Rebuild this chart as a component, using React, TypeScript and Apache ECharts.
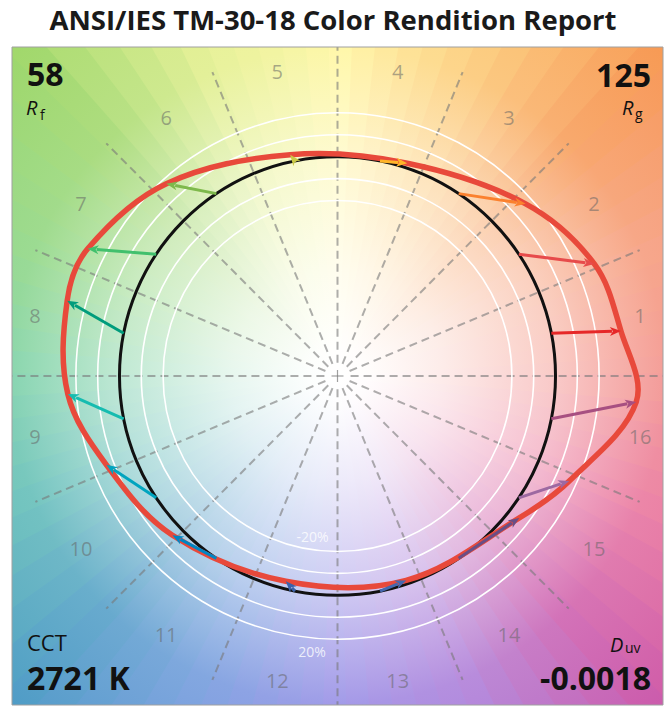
import React, { useEffect, useRef } from 'react';
import * as echarts from 'echarts';

const titleText = 'ANSI/IES TM-30-18 Color Rendition Report';
const bins = ['1', '2', '3', '4', '5', '6', '7', '8', '9', '10', '11', '12', '13', '14', '15', '16'];
const binColors = ['#e62828', '#e74b4b', '#fb812e', '#ffb529', '#cbca46', '#7eb94c', '#41c06d', '#009c7c',
  '#16bcb0', '#00a4bf', '#0085c3', '#3b62aa', '#4568ae', '#6a4e85', '#9d69a1', '#a74f81'];
// test (light source) chromaticity per hue bin, normalised to the reference circle (radius 1)
const testX = [1.30, 1.178, 0.863, 0.32, -0.217, -0.785, -1.146, -1.24, -1.237, -1.06, -0.757, -0.237, 0.315, 0.834, 1.063, 1.37];
const testY = [0.205, 0.511, 0.785, 0.97, 1.009, 0.877, 0.58, 0.343, -0.082, -0.405, -0.726, -0.936, -0.932, -0.647, -0.479, -0.119];
const ringRadii = [0.8, 0.9, 1.1, 1.2];
const ringLabels = ['-20%', '20%'];
const rfValue = '58';
const rgValue = '125';
const cctValue = '2721 K';
const duvValue = '-0.0018';
// background hue anchors (every 22.5 deg, counter-clockwise from +x)
const bgColors = ['#f28a84', '#f59676', '#f79650', '#fcc870', '#fff59a', '#e2ef88', '#9cd666', '#8ad47c',
  '#72cda0', '#5abab4', '#4a9ac4', '#6e96dc', '#9088e4', '#a878d8', '#cc56a8', '#e86e98'];

const FONT = '"Open Sans", "Noto Sans", sans-serif';
const RAD = Math.PI / 180;

function hexRgb(h: string) {
  const n = parseInt(h.slice(1), 16);
  return [(n >> 16) & 255, (n >> 8) & 255, n & 255];
}
function hueAt(deg: number) {
  const d = ((deg % 360) + 360) % 360;
  const k = Math.floor(d / 22.5);
  const t = (d - k * 22.5) / 22.5;
  const a = hexRgb(bgColors[k % 16]);
  const b = hexRgb(bgColors[(k + 1) % 16]);
  return [0, 1, 2].map((i) => a[i] + (b[i] - a[i]) * t);
}
function mix(c: number[], t: number) {
  const v = c.map((x) => Math.round(255 + (x - 255) * t));
  return `rgb(${v[0]},${v[1]},${v[2]})`;
}

export default function App() {
  const ref = useRef<HTMLDivElement>(null);
  useEffect(() => {
    document.body.style.margin = '0';
    const chart = echarts.init(ref.current!, null, { renderer: 'svg' });
    const binAngle = (i: number) => (11.25 + 22.5 * i) * RAD;
    const labelR = 1.415;

    const option: any = {
      animation: false,
      backgroundColor: '#ffffff',
      title: {
        text: titleText,
        left: 'center',
        top: 5,
        padding: 0,
        textStyle: { fontFamily: FONT, fontWeight: 'bold', fontSize: 27.5, color: '#1a1a1a' },
      },
      grid: { left: 12, top: 47, width: 651, height: 658, show: false },
      xAxis: { type: 'value', min: -1.493, max: 1.493, show: false },
      yAxis: { type: 'value', min: -1.5, max: 1.5, show: false },
      series: [
        {
          name: 'background',
          type: 'custom',
          clip: true,
          silent: true,
          z: 1,
          data: [[0, 0]],
          renderItem: (params: any, api: any) => {
            const c = api.coord([0, 0]);
            const s = api.size([1, 1]);
            const R = 2.2 * Math.max(s[0], s[1]);
            const N = 90;
            const children: any[] = [];
            for (let k = 0; k < N; k++) {
              const a0 = (k * 360) / N - 0.5;
              const a1 = ((k + 1) * 360) / N + 0.5;
              const col = hueAt(((k + 0.5) * 360) / N);
              const grad = new echarts.graphic.RadialGradient(c[0], c[1], R, [
                { offset: 0, color: mix(col, 0) },
                { offset: 0.06, color: mix(col, 0.02) },
                { offset: 0.22, color: mix(col, 0.17) },
                { offset: 0.45, color: mix(col, 0.45) },
                { offset: 0.68, color: mix(col, 0.84) },
                { offset: 1, color: mix(col, 1) },
              ], true);
              children.push({
                type: 'sector',
                shape: { cx: c[0], cy: c[1], r0: 0, r: R, startAngle: -a1 * RAD, endAngle: -a0 * RAD, clockwise: true },
                style: { fill: grad, stroke: null },
              });
            }
            return { type: 'group', children };
          },
        },
        {
          name: 'guides',
          type: 'custom',
          clip: true,
          silent: true,
          z: 2,
          data: [[0, 0]],
          renderItem: (params: any, api: any) => {
            const c = api.coord([0, 0]);
            const s = api.size([1, 1]);
            const children: any[] = [];
            for (let k = 0; k < 16; k++) {
              const a = 22.5 * k * RAD;
              const b = api.coord([0.06 * Math.cos(a), 0.06 * Math.sin(a)]);
              const e = api.coord([1.5 * Math.cos(a), 1.5 * Math.sin(a)]);
              children.push({
                type: 'line',
                shape: { x1: b[0], y1: b[1], x2: e[0], y2: e[1] },
                style: { stroke: 'rgba(120,120,120,0.6)', lineWidth: 2, lineDash: [8, 5] },
              });
            }
            children.push({
              type: 'line',
              shape: { x1: c[0] - 6, y1: c[1], x2: c[0] + 6, y2: c[1] },
              style: { stroke: 'rgba(120,120,120,0.7)', lineWidth: 1.2 },
            });
            children.push({
              type: 'line',
              shape: { x1: c[0], y1: c[1] - 6, x2: c[0], y2: c[1] + 6 },
              style: { stroke: 'rgba(120,120,120,0.7)', lineWidth: 1.2 },
            });
            ringRadii.forEach((r) => {
              children.push({
                type: 'ellipse',
                shape: { cx: c[0], cy: c[1], rx: r * s[0], ry: r * s[1] },
                style: { fill: 'none', stroke: '#ffffff', lineWidth: 1.6 },
              });
            });
            return { type: 'group', children };
          },
        },
        {
          name: 'reference',
          type: 'custom',
          clip: true,
          silent: true,
          z: 3,
          data: [[0, 0]],
          renderItem: (params: any, api: any) => {
            const c = api.coord([0, 0]);
            const s = api.size([1, 1]);
            return {
              type: 'ellipse',
              shape: { cx: c[0], cy: c[1], rx: s[0], ry: s[1] },
              style: { fill: 'none', stroke: '#111111', lineWidth: 3 },
            };
          },
        },
        {
          name: 'test',
          type: 'custom',
          clip: true,
          silent: true,
          z: 4,
          data: testX.map((x, i) => [x, testY[i]]),
          renderItem: (params: any, api: any) => {
            if (params.dataIndex !== 0) return null;
            const pts = testX.map((x, i) => api.coord([x, testY[i]]));
            return {
              type: 'polygon',
              shape: { points: pts, smooth: 0.35 },
              style: { fill: 'none', stroke: '#e8493b', lineWidth: 5.5 },
            };
          },
        },
        {
          name: 'arrows',
          type: 'custom',
          clip: true,
          silent: true,
          z: 5,
          data: testX.map((x, i) => [x, testY[i]]),
          renderItem: (params: any, api: any) => {
            const i = params.dataIndex;
            const th = binAngle(i);
            const p0 = api.coord([Math.cos(th), Math.sin(th)]);
            const p1 = api.coord([api.value(0), api.value(1)]);
            let dx = p1[0] - p0[0];
            let dy = p1[1] - p0[1];
            const L = Math.hypot(dx, dy) || 1;
            dx /= L; dy /= L;
            const hl = 11, hw = 4.5;
            const bx = p1[0] - dx * hl, by = p1[1] - dy * hl;
            const col = binColors[i];
            return {
              type: 'group',
              children: [
                {
                  type: 'line',
                  shape: { x1: p0[0], y1: p0[1], x2: bx + dx * 2, y2: by + dy * 2 },
                  style: { stroke: col, lineWidth: 3 },
                },
                {
                  type: 'polygon',
                  shape: { points: [[p1[0], p1[1]], [bx - dy * hw, by + dx * hw], [bx + dx * 3, by + dy * 3], [bx + dy * hw, by - dx * hw]] },
                  style: { fill: col, stroke: null },
                },
              ],
            };
          },
        },
        {
          name: 'bins',
          type: 'scatter',
          silent: true,
          z: 6,
          symbolSize: 1,
          itemStyle: { color: 'rgba(0,0,0,0)' },
          label: {
            show: true,
            position: 'inside',
            formatter: '{b}',
            fontFamily: FONT,
            fontSize: 20,
            color: 'rgba(100,100,100,0.66)',
          },
          data: bins.map((b, i) => ({
            name: b,
            value: [labelR * Math.cos(binAngle(i)), labelR * Math.sin(binAngle(i))],
          })),
        },
        {
          name: 'rings',
          type: 'scatter',
          silent: true,
          z: 6,
          symbolSize: 1,
          itemStyle: { color: 'rgba(0,0,0,0)' },
          label: {
            show: true,
            position: 'inside',
            formatter: '{b}',
            fontFamily: FONT,
            fontSize: 14,
            color: '#ffffff',
          },
          data: [
            { name: ringLabels[0], value: [-0.115, -(ringRadii[0] - 0.07)] },
            { name: ringLabels[1], value: [-0.117, -(ringRadii[3] + 0.055)] },
          ],
        },
      ],
      graphic: [
        { type: 'rect', z: 100, silent: true, shape: { x: 12, y: 47, width: 651, height: 658 }, style: { fill: 'none', stroke: '#a0a0a0', lineWidth: 1 } },
        { type: 'text', z: 100, x: 27, y: 73.6, style: { text: rfValue, font: `bold 32px ${FONT}`, fill: '#111', textAlign: 'left', textVerticalAlign: 'middle' } },
        { type: 'text', z: 100, x: 26, y: 107.2, style: { text: 'R', font: `italic 20px ${FONT}`, fill: '#111', textAlign: 'left', textVerticalAlign: 'middle' } },
        { type: 'text', z: 100, x: 40, y: 114.6, style: { text: 'f', font: `14px ${FONT}`, fill: '#111', textAlign: 'left', textVerticalAlign: 'middle' } },
        { type: 'text', z: 100, x: 651, y: 74.6, style: { text: rgValue, font: `bold 32px ${FONT}`, fill: '#111', textAlign: 'right', textVerticalAlign: 'middle' } },
        { type: 'text', z: 100, x: 622, y: 107.2, style: { text: 'R', font: `italic 20px ${FONT}`, fill: '#111', textAlign: 'left', textVerticalAlign: 'middle' } },
        { type: 'text', z: 100, x: 635, y: 113, style: { text: 'g', font: `14px ${FONT}`, fill: '#111', textAlign: 'left', textVerticalAlign: 'middle' } },
        { type: 'text', z: 100, x: 27, y: 641.5, style: { text: 'CCT', font: `22px ${FONT}`, fill: '#111', textAlign: 'left', textVerticalAlign: 'middle' } },
        { type: 'text', z: 100, x: 27, y: 677.6, style: { text: cctValue, font: `bold 32px ${FONT}`, fill: '#111', textAlign: 'left', textVerticalAlign: 'middle' } },
        { type: 'text', z: 100, x: 610, y: 644, style: { text: 'D', font: `italic 20px ${FONT}`, fill: '#111', textAlign: 'left', textVerticalAlign: 'middle' } },
        { type: 'text', z: 100, x: 625, y: 647.6, style: { text: 'uv', font: `14px ${FONT}`, fill: '#111', textAlign: 'left', textVerticalAlign: 'middle' } },
        { type: 'text', z: 100, x: 651, y: 677.6, style: { text: duvValue, font: `bold 32px ${FONT}`, fill: '#111', textAlign: 'right', textVerticalAlign: 'middle' } },
      ],
    };
    chart.setOption(option);
    return () => chart.dispose();
  }, []);
  return <div ref={ref} style={{ width: 666, height: 706 }} />;
}
